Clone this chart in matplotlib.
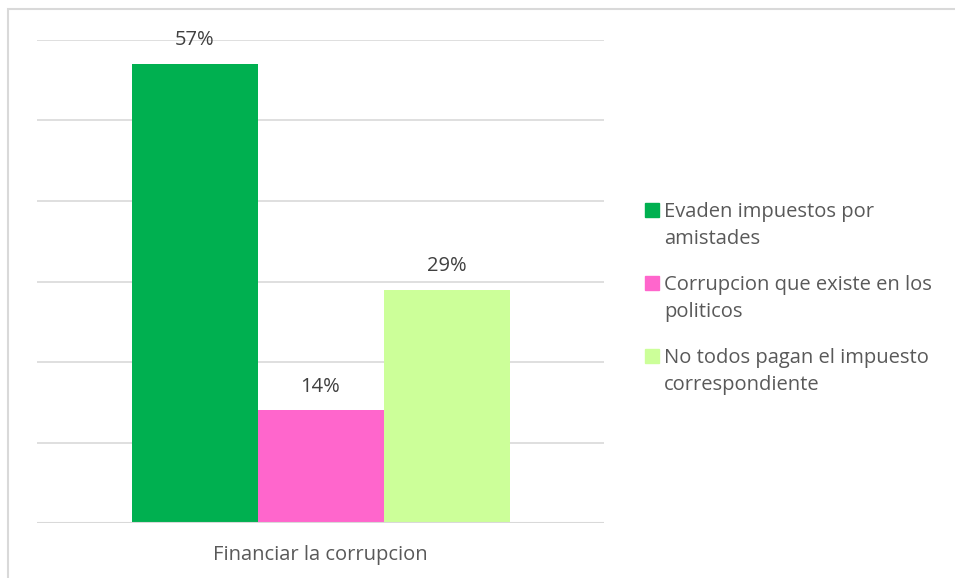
import matplotlib.pyplot as plt
from matplotlib.patches import Rectangle

category = 'Financiar la corrupcion'
series = ['Evaden impuestos por\namistades',
          'Corrupcion que existe en los\npoliticos',
          'No todos pagan el impuesto\ncorrespondiente']
values = [57, 14, 29]
labels = ['57%', '14%', '29%']
colors = ['#00B050', '#FF66CC', '#CCFF99']

plt.rcParams['font.family'] = ['Open Sans', 'DejaVu Sans']
W, H = 955, 578
fs = 14.5
fig = plt.figure(figsize=(W / 100, H / 100), dpi=100)

# outer chart frame (cut off on right and bottom)
fig.patches.append(Rectangle((8 / W, -0.1), 1.2, 1 - 9 / H + 0.1, transform=fig.transFigure,
                             fill=False, edgecolor='#D9D9D9', linewidth=1.5))

ax = fig.add_axes([37 / W, 1 - 523 / H, (604 - 37) / W, (523 - 40) / H])
offsets = [-1, 0, 1]
for off, v, lab, c in zip(offsets, values, labels, colors):
    ax.bar(off, v, width=1, color=c, zorder=3)
    ax.text(off, v + 1.7, lab, ha='center', va='bottom', fontsize=fs, color='#404040')

ax.set_xlim(-2.25, 2.25)
ax.set_ylim(0, 60)
ax.set_yticks(range(0, 61, 10))
ax.yaxis.grid(True, color='#D9D9D9', linewidth=1.2, zorder=0)
ax.tick_params(left=False, labelleft=False, bottom=False)
ax.set_xticks([0])
ax.set_xticklabels([category], fontsize=fs, color='#595959')
ax.tick_params(axis='x', pad=12)
for s in ax.spines.values():
    s.set_visible(False)
ax.axhline(0, color='#D9D9D9', linewidth=1.5, zorder=4)

# legend drawn by hand so the marker sits on the first text line
for i, (name, c) in enumerate(zip(series, colors)):
    yc = 210 + 73 * i
    fig.patches.append(Rectangle((645 / W, 1 - (yc + 7) / H), 14 / W, 14 / H,
                                 transform=fig.transFigure, color=c))
    fig.text(664 / W, 1 - (yc - 8) / H, name, ha='left', va='top', fontsize=fs,
             color='#595959', linespacing=1.45)

fig.savefig('out.png', dpi=100)
